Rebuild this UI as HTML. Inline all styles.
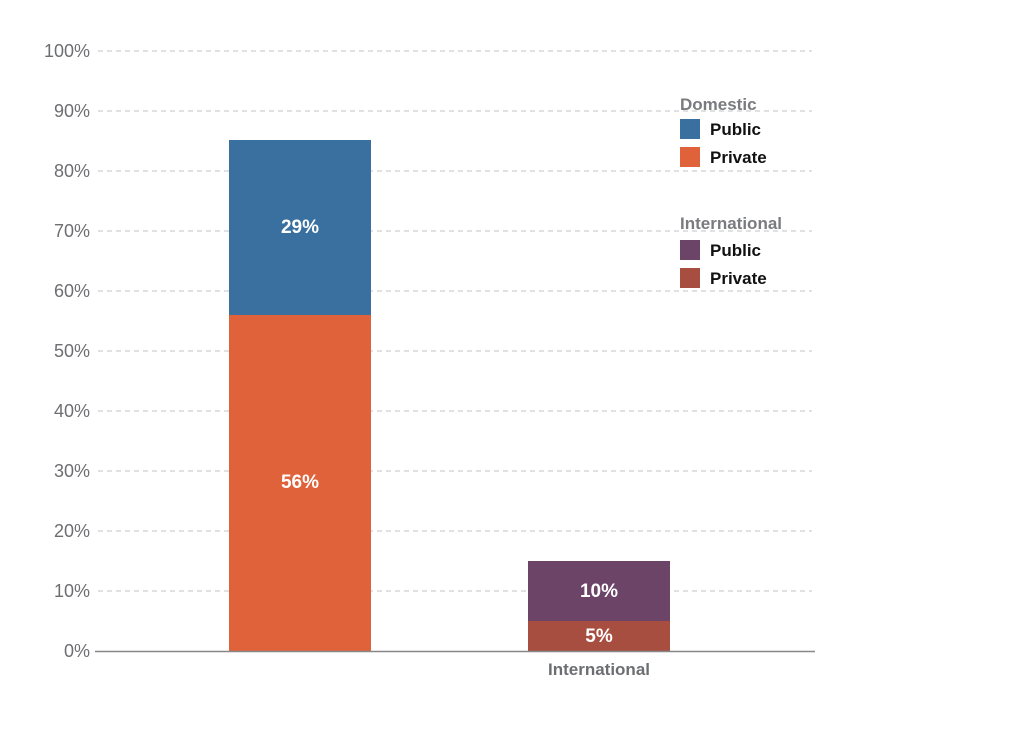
<!DOCTYPE html>
<html><head><style>body{margin:0;background:#fff}</style></head><body>
<svg width="1024" height="731" xmlns="http://www.w3.org/2000/svg" font-family="Liberation Sans, sans-serif">
<rect width="1024" height="731" fill="#fff"/>
<g stroke="#cfcfcf" stroke-width="1.3" stroke-dasharray="5,4">
<line x1="98" x2="812" y1="51" y2="51"/><line x1="98" x2="812" y1="111" y2="111"/>
<line x1="98" x2="812" y1="171" y2="171"/><line x1="98" x2="812" y1="231" y2="231"/>
<line x1="98" x2="812" y1="291" y2="291"/><line x1="98" x2="812" y1="351" y2="351"/>
<line x1="98" x2="812" y1="411" y2="411"/><line x1="98" x2="812" y1="471" y2="471"/>
<line x1="98" x2="812" y1="531" y2="531"/><line x1="98" x2="812" y1="591" y2="591"/>
</g>
<g fill="#6d6e71" font-size="18" text-anchor="end">
<text x="90" y="57">100%</text><text x="90" y="117">90%</text><text x="90" y="177">80%</text>
<text x="90" y="237">70%</text><text x="90" y="297">60%</text><text x="90" y="357">50%</text>
<text x="90" y="417">40%</text><text x="90" y="477">30%</text><text x="90" y="537">20%</text>
<text x="90" y="597">10%</text><text x="90" y="657">0%</text>
</g>
<rect x="229" y="140" width="142" height="175" fill="#3a70a0"/>
<rect x="229" y="315" width="142" height="336" fill="#e0623a"/>
<rect x="528" y="561" width="142" height="60" fill="#6b4468"/>
<rect x="528" y="621" width="142" height="30" fill="#a84e40"/>
<line x1="95" x2="815" y1="651.5" y2="651.5" stroke="#888" stroke-width="1.5"/>
<g fill="#fff" font-size="19" font-weight="bold" text-anchor="middle">
<text x="300" y="233">29%</text><text x="300" y="488">56%</text>
<text x="599" y="597">10%</text><text x="599" y="642">5%</text>
</g>
<text x="599" y="675" fill="#6d6e71" font-size="17" font-weight="bold" text-anchor="middle">International</text>
<g font-size="17" font-weight="bold">
<text x="680" y="110" fill="#7a7b7e">Domestic</text>
<rect x="680" y="119" width="20" height="20" fill="#3a70a0"/><text x="710" y="135" fill="#111">Public</text>
<rect x="680" y="147" width="20" height="20" fill="#e0623a"/><text x="710" y="163" fill="#111">Private</text>
<text x="680" y="229" fill="#7a7b7e">International</text>
<rect x="680" y="240" width="20" height="20" fill="#6b4468"/><text x="710" y="256" fill="#111">Public</text>
<rect x="680" y="268" width="20" height="20" fill="#a84e40"/><text x="710" y="284" fill="#111">Private</text>
</g>
</svg>
</body></html>
